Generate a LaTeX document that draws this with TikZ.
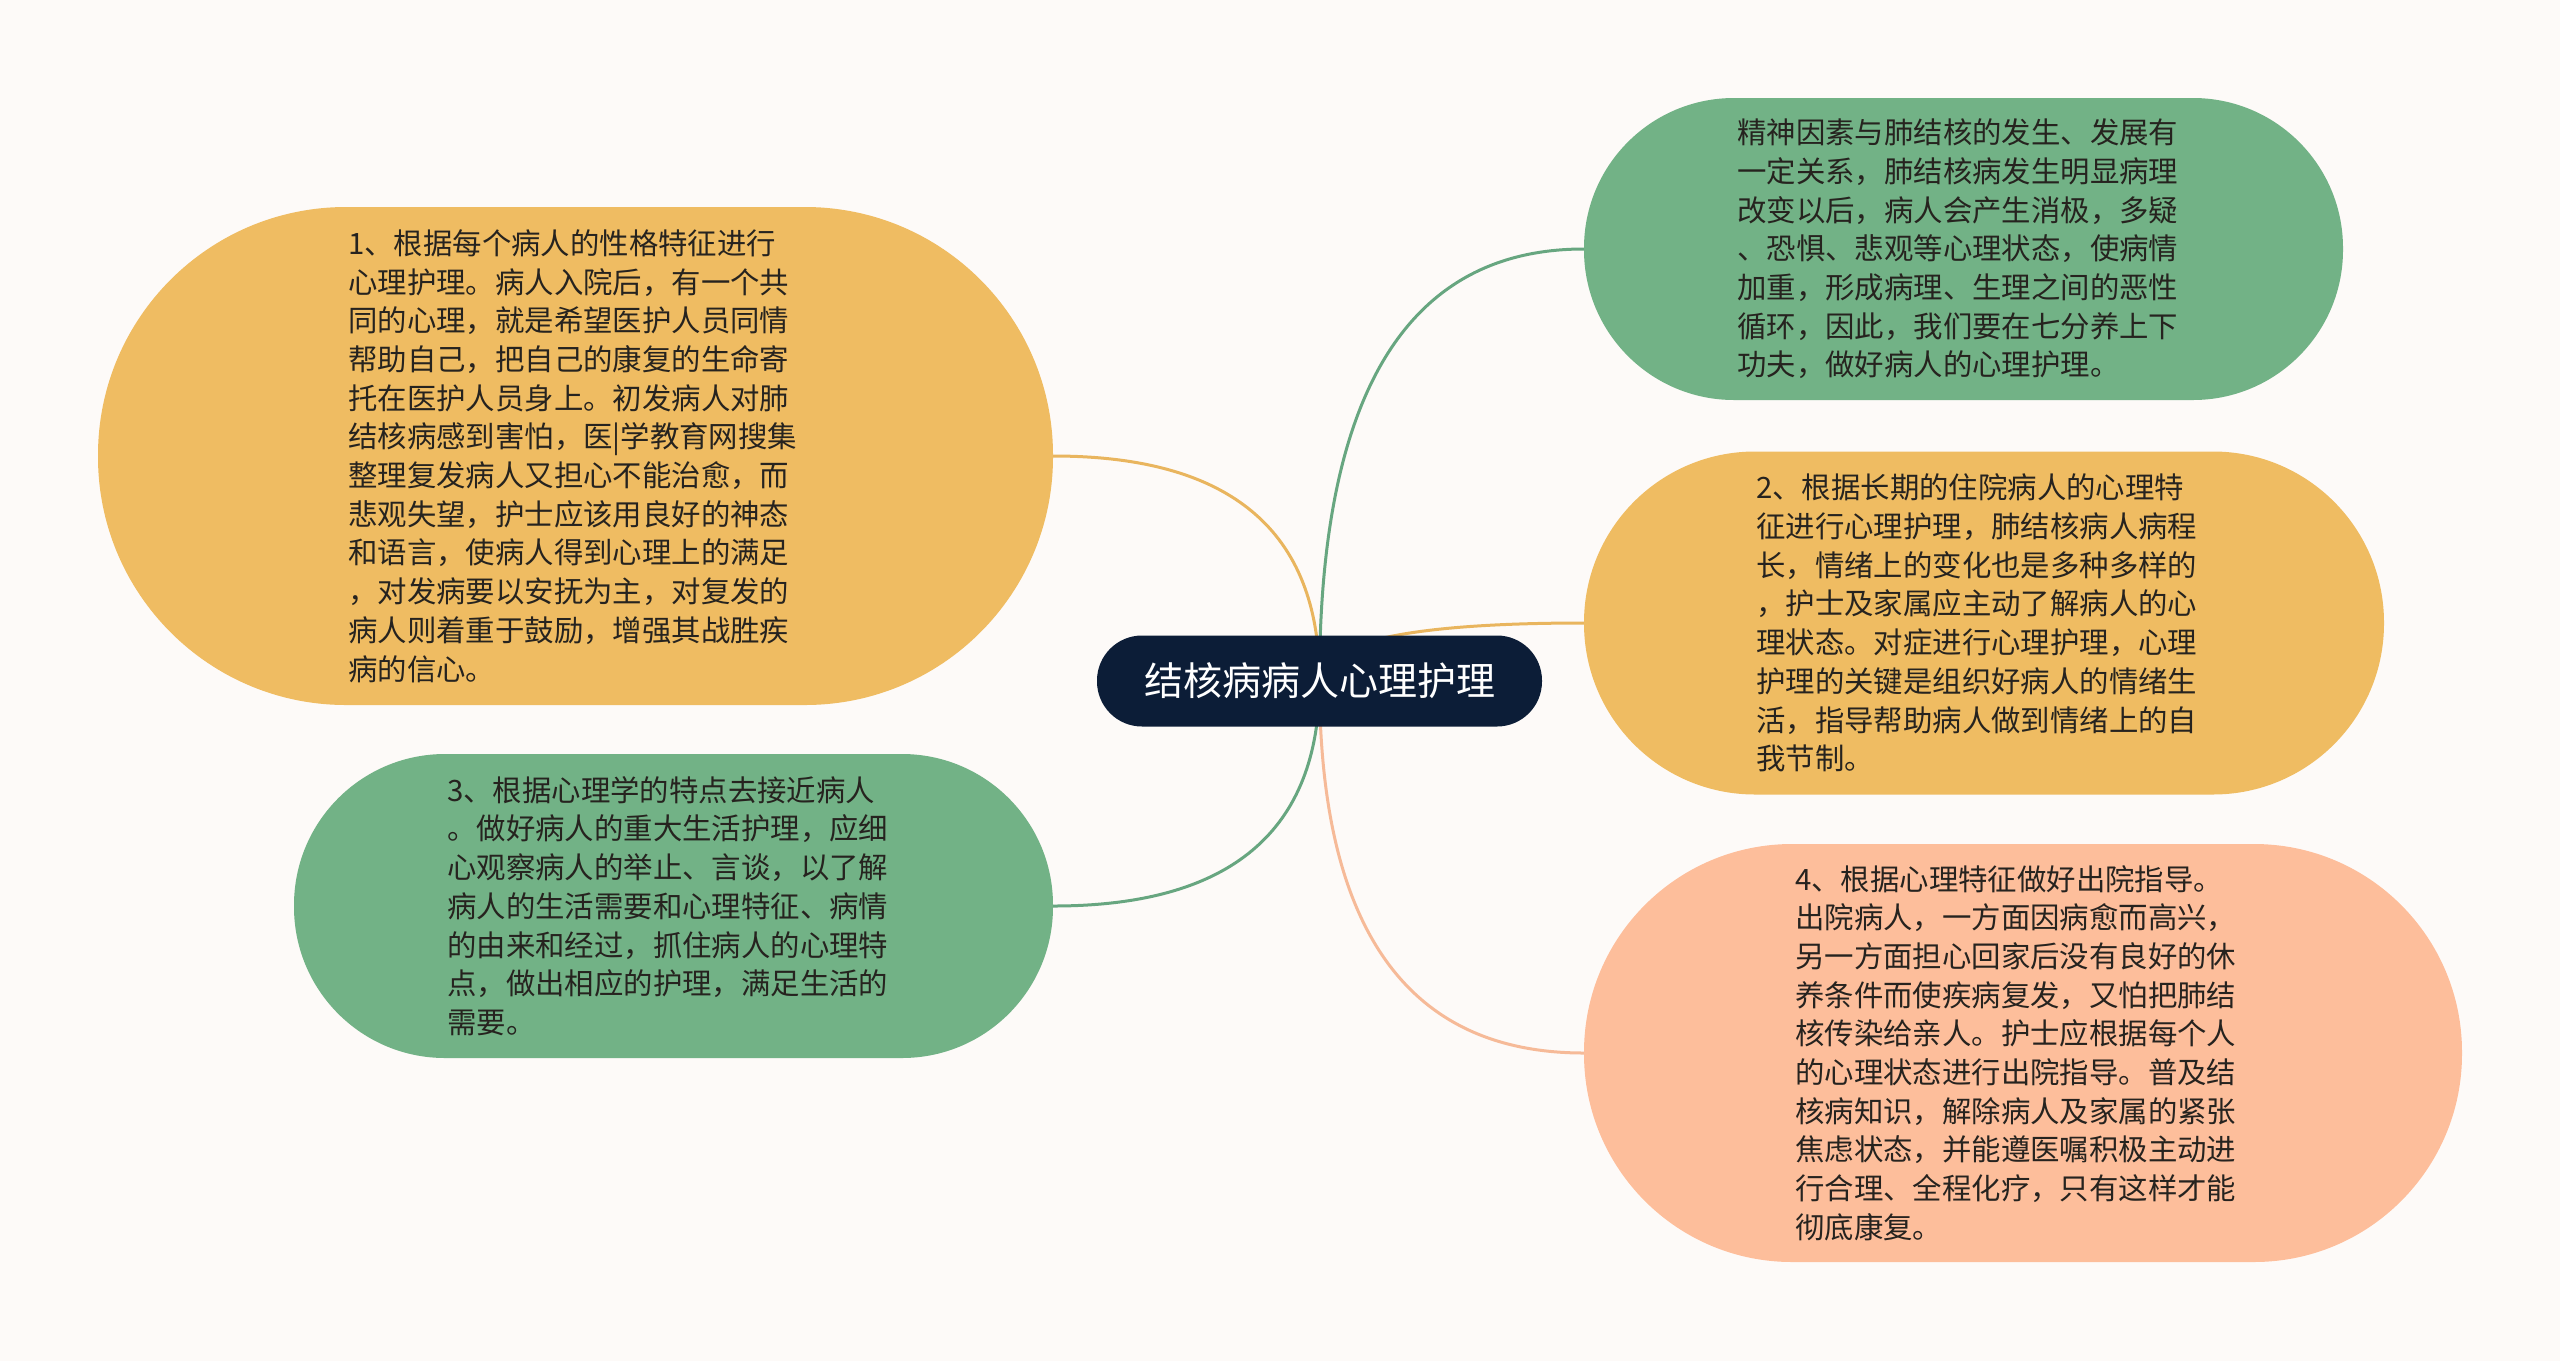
\documentclass[tikz,border=0pt]{standalone}
\usepackage{fontspec}
\newfontfamily\cjk{Noto Sans CJK SC}
\usetikzlibrary{calc}
\definecolor{bgc}{HTML}{FDFAF8}
\definecolor{yellowc}{HTML}{EFBC62}
\definecolor{greenc}{HTML}{72B286}
\definecolor{salmonc}{HTML}{FDBE9B}
\definecolor{rootc}{HTML}{0C1D37}
\definecolor{ylinec}{HTML}{E9B55E}
\definecolor{glinec}{HTML}{67A680}
\definecolor{slinec}{HTML}{F6BA98}
\definecolor{textc}{HTML}{26231F}
\pgfdeclarelayer{background}
\pgfsetlayers{background,main}
\tikzset{
  bubble/.style={rectangle, draw=none, inner sep=0pt},
  txt/.style={anchor=west, align=left, inner sep=0pt, text=textc,
    font=\cjk\fontsize{29.4pt}{38.7pt}\selectfont},
  rootbox/.style={rectangle, fill=rootc, text=white, inner sep=0pt,
    minimum width=445pt, minimum height=91pt, rounded corners=45pt,
    font=\cjk\fontsize{39pt}{46pt}\selectfont},
  conn/.style={line width=3pt}
}
\begin{document}
\begin{tikzpicture}[x=1pt,y=-1pt]
\useasboundingbox (0,0) rectangle (2560,1361);
\begin{pgfonlayer}{background}
\fill[bgc] (0,0) rectangle (2560,1361);
\end{pgfonlayer}

% bubbles
\node[bubble, fill=yellowc, minimum width=955pt, minimum height=498pt, rounded corners=248pt] (b1) at (575.5,456) {};
\node[bubble, fill=greenc, minimum width=759pt, minimum height=304pt, rounded corners=151pt] (b2) at (673.5,906) {};
\node[bubble, fill=greenc, minimum width=759pt, minimum height=302pt, rounded corners=150pt] (b3) at (1963.5,249) {};
\node[bubble, fill=yellowc, minimum width=800pt, minimum height=343pt, rounded corners=171pt] (b4) at (1984,623) {};
\node[bubble, fill=salmonc, minimum width=878pt, minimum height=418pt, rounded corners=208pt] (b5) at (2023,1053) {};

% texts
\node[txt] (t1) at (348,456) {1、根据每个病人的性格特征进行\\心理护理。病人入院后，有一个共\\同的心理，就是希望医护人员同情\\帮助自己，把自己的康复的生命寄\\托在医护人员身上。初发病人对肺\\结核病感到害怕，医|学教育网搜集\\整理复发病人又担心不能治愈，而\\悲观失望，护士应该用良好的神态\\和语言，使病人得到心理上的满足\\，对发病要以安抚为主，对复发的\\病人则着重于鼓励，增强其战胜疾\\病的信心。};
\node[txt] (t2) at (447,906) {3、根据心理学的特点去接近病人\\。做好病人的重大生活护理，应细\\心观察病人的举止、言谈，以了解\\病人的生活需要和心理特征、病情\\的由来和经过，抓住病人的心理特\\点，做出相应的护理，满足生活的\\需要。};
\node[txt] (t3) at (1737,249) {精神因素与肺结核的发生、发展有\\一定关系，肺结核病发生明显病理\\改变以后，病人会产生消极，多疑\\、恐惧、悲观等心理状态，使病情\\加重，形成病理、生理之间的恶性\\循环，因此，我们要在七分养上下\\功夫，做好病人的心理护理。};
\node[txt] (t4) at (1756,623) {2、根据长期的住院病人的心理特\\征进行心理护理，肺结核病人病程\\长，情绪上的变化也是多种多样的\\，护士及家属应主动了解病人的心\\理状态。对症进行心理护理，心理\\护理的关键是组织好病人的情绪生\\活，指导帮助病人做到情绪上的自\\我节制。};
\node[txt] (t5) at (1795,1053) {4、根据心理特征做好出院指导。\\出院病人，一方面因病愈而高兴，\\另一方面担心回家后没有良好的休\\养条件而使疾病复发，又怕把肺结\\核传染给亲人。护士应根据每个人\\的心理状态进行出院指导。普及结\\核病知识，解除病人及家属的紧张\\焦虑状态，并能遵医嘱积极主动进\\行合理、全程化疗，只有这样才能\\彻底康复。};

% root
\node[rootbox] (r) at (1319.5,681) {结核病病人心理护理};

% connectors
\coordinate (q1) at (r.center |- b1.east);
\coordinate (q2) at (r.center |- b2.east);
\coordinate (q3) at (r.center |- b3.west);
\coordinate (q4) at (r.center |- b4.west);
\coordinate (q5) at (r.center |- b5.west);
\begin{pgfonlayer}{background}
\draw[conn, ylinec] (r.center) .. controls ($(r.center)!0.667!(q1)$) and ($(b1.east)!0.667!(q1)$) .. (b1.east);
\draw[conn, glinec] (r.center) .. controls ($(r.center)!0.667!(q2)$) and ($(b2.east)!0.667!(q2)$) .. (b2.east);
\draw[conn, glinec] (r.center) .. controls ($(r.center)!0.667!(q3)$) and ($(b3.west)!0.667!(q3)$) .. (b3.west);
\draw[conn, ylinec] (r.center) .. controls ($(r.center)!0.667!(q4)$) and ($(b4.west)!0.667!(q4)$) .. (b4.west);
\draw[conn, slinec] (r.center) .. controls ($(r.center)!0.667!(q5)$) and ($(b5.west)!0.667!(q5)$) .. (b5.west);
\end{pgfonlayer}
\end{tikzpicture}
\end{document}
